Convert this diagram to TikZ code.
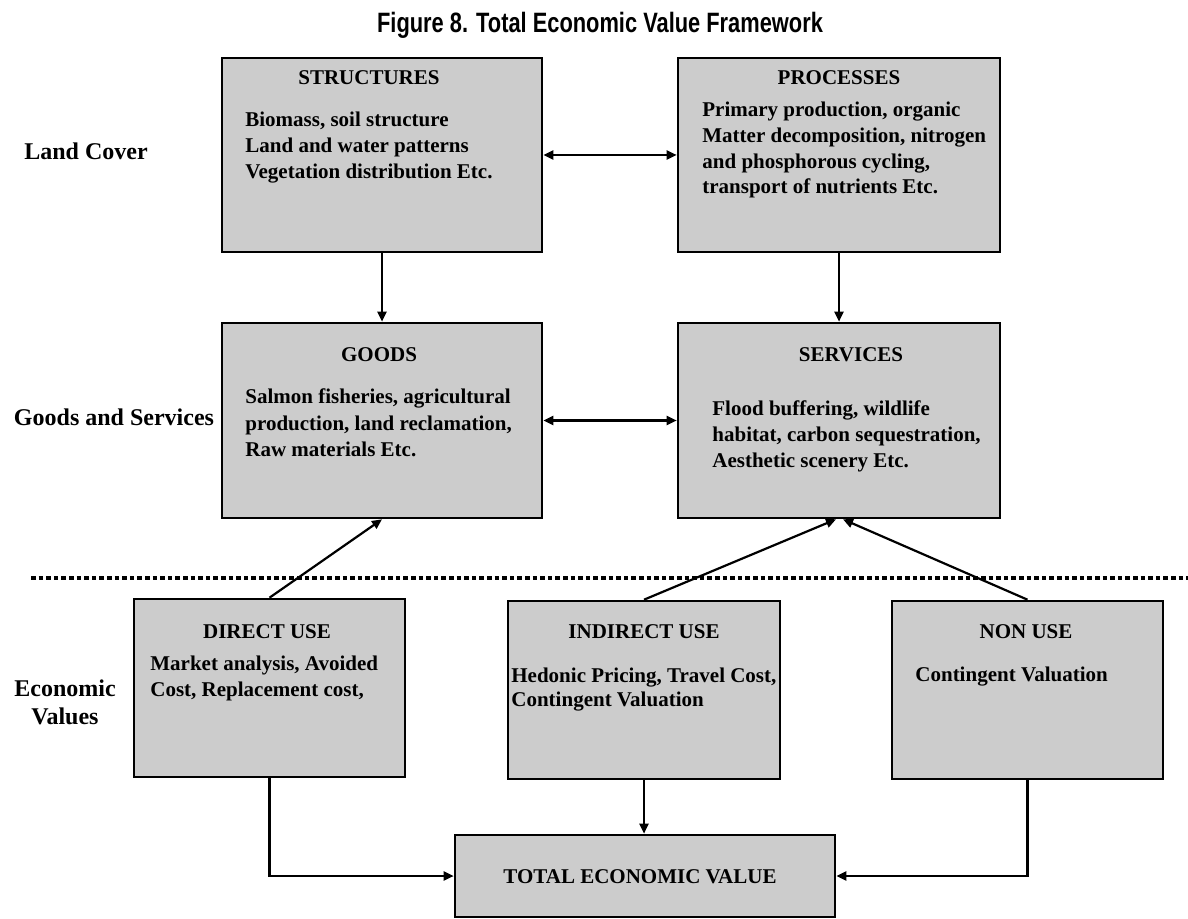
\documentclass[tikz,border=0pt]{standalone}
\usepackage{fontspec}
\setmainfont{Liberation Serif}
\newfontfamily\titlefont[FakeStretch=0.78]{Liberation Sans}
\usetikzlibrary{arrows.meta}
\definecolor{boxgray}{RGB}{204,204,204}

\begin{document}
\begin{tikzpicture}[x=0.5pt,y=-0.5pt,
  box/.style={draw,fill=boxgray,line width=1.3pt,inner sep=0pt},
  head/.style={font=\fontsize{10.5pt}{13pt}\selectfont\bfseries},
  body/.style={font=\fontsize{10.5pt}{13pt}\selectfont\bfseries,align=left,anchor=base west,inner sep=0pt},
  side/.style={font=\fontsize{12pt}{14pt}\selectfont\bfseries,align=center},
  link/.style={line width=1.1pt,-{Triangle[length=5pt,width=4.5pt]}},
  twoway/.style={line width=1.1pt,{Triangle[length=5pt,width=4.5pt]}-{Triangle[length=5pt,width=4.5pt]}}]
\useasboundingbox (0,0) rectangle (1188,919);
\node[anchor=base,font=\titlefont\fontsize{14pt}{16pt}\selectfont\bfseries] (title) at (600,33) {Figure 8. Total Economic Value Framework};

\node[box,minimum width=160pt,minimum height=97pt] (str) at (382,155) {};
\node[box,minimum width=161pt,minimum height=97pt] (proc) at (839,155) {};
\node[box,minimum width=160pt,minimum height=97.5pt] (goods) at (382,420.5) {};
\node[box,minimum width=161pt,minimum height=97.5pt] (serv) at (839,420.5) {};
\node[box,minimum width=135.5pt,minimum height=89pt] (direct) at (269.5,688) {};
\node[box,minimum width=136pt,minimum height=89pt] (indirect) at (644,690) {};
\node[box,minimum width=135.5pt,minimum height=89pt] (nonuse) at (1027.5,690) {};
\node[box,minimum width=190pt,minimum height=41pt] (tev) at (645,876) {};

\node[head] (strhead) at (369,78) {STRUCTURES};
\node[head] (prochead) at (839,78) {PROCESSES};
\node[head] (goodshead) at (379,355) {GOODS};
\node[head] (servhead) at (851,355) {SERVICES};
\node[head] (directhead) at (267,632) {DIRECT USE};
\node[head] (indirecthead) at (644,632) {INDIRECT USE};
\node[head] (nonusehead) at (1026,632) {NON USE};
\node[head] (tevhead) at (640,877) {TOTAL ECONOMIC VALUE};

\node[body] (strtxt) at (245,179) {Biomass, soil structure\\Land and water patterns\\Vegetation distribution Etc.};
\node[body,font=\fontsize{10.5pt}{12.85pt}\selectfont\bfseries] (proctxt) at (702,194) {Primary production, organic\\Matter decomposition, nitrogen\\and phosphorous cycling,\\transport of nutrients Etc.};
\node[body] (goodstxt) at (245,456) {Salmon fisheries, agricultural\\production, land reclamation,\\Raw materials Etc.};
\node[body] (servtxt) at (712,467) {Flood buffering, wildlife\\habitat, carbon sequestration,\\Aesthetic scenery Etc.};
\node[body] (directtxt) at (150,696) {Market analysis, Avoided\\Cost, Replacement cost,};
\node[body,font=\fontsize{10.5pt}{12pt}\selectfont\bfseries] (indirecttxt) at (511,706) {Hedonic Pricing, Travel Cost,\\Contingent Valuation};
\node[body] (nonusetxt) at (915,681) {Contingent Valuation};

\node[side] (landcover) at (86,151) {Land Cover};
\node[side] (goodsserv) at (114,417) {Goods and Services};
\node[side,anchor=base] (econval) at (65,724) {Economic\\Values};

\coordinate (sepleft) at (31,578);
\coordinate (sepright) at (1188,578);
\draw[line width=1.8pt,dash pattern=on 2.3pt off 1.5pt] (sepleft) -- (sepright);

\draw[twoway] (str.east) -- (proc.west);
\draw[link] (str.south) -- (goods.north);
\draw[link] (proc.south) -- (serv.north);
\draw[twoway] (goods.east) -- (serv.west);
\draw[link] (direct.north) -- (goods.south);
\draw[link] (indirect.north) -- ([xshift=-1.5pt]serv.south);
\draw[link] (nonuse.north) -- ([xshift=2pt]serv.south);
\draw[link] (direct.south) |- (tev.west);
\draw[link] (indirect.south) -- (indirect.south |- tev.north);
\draw[link] (nonuse.south) |- (tev.east);
\end{tikzpicture}
\end{document}
